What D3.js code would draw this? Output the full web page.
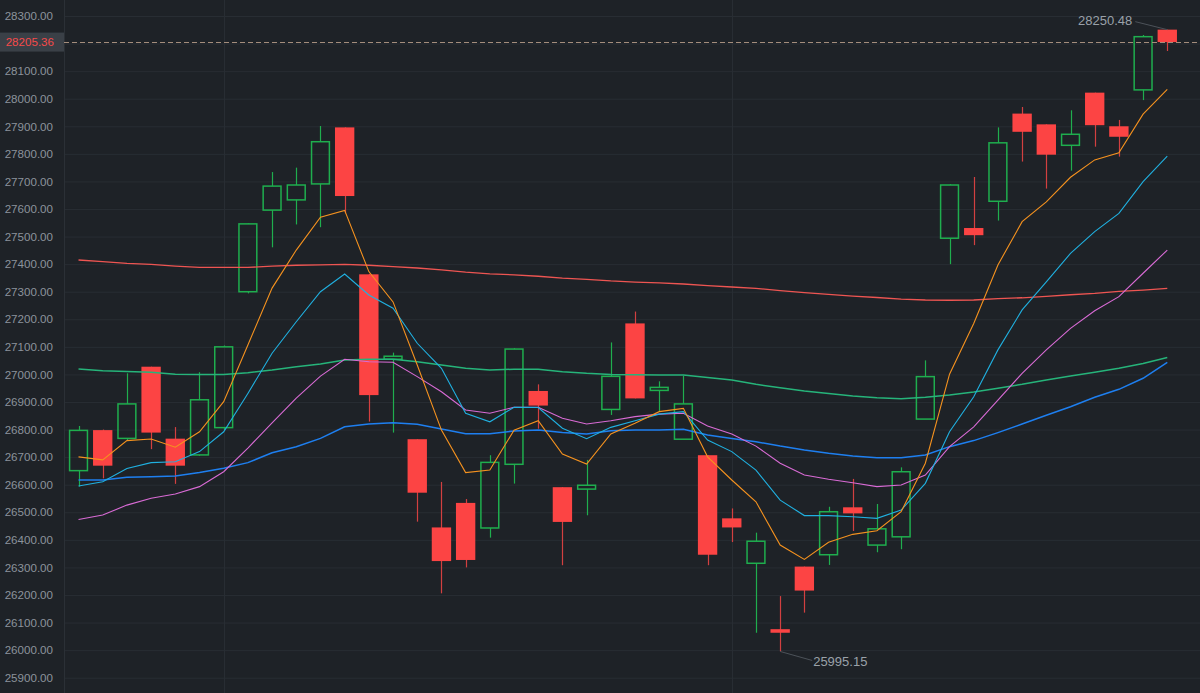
<!DOCTYPE html>
<html>
<head>
<meta charset="utf-8">
<script src="https://cdn.jsdelivr.net/npm/d3@7/dist/d3.min.js"></script>
<style>
  html, body { margin: 0; padding: 0; background: #1e2227; }
  svg { display: block; }
  text { font-family: "Liberation Sans", Arial, sans-serif; }
</style>
</head>
<body>
<script>
var width = 1200,
    height = 693,
    axisW = 64;

// candles (oldest -> newest)
var opens  = [26651,26798,26768,27028,26767,26708,26807,27300,27596,27633,27691,27896,27363,27055,26765,26445,26534,26443,26674,26940,26591,26584,26873,27185,26942,26765,26707,26478,26315,26076,26303,26346,26518,26381,26411,26838,27494,27531,27628,27946,27907,27831,28022,27900,28032,28250.48];
var highs  = [26813,26800,27004,27028,26809,27008,27105,27548,27734,27750,27901,27896,27365,27079,26765,26610,26548,26707,27095,26964,26591,26690,27116,27228,26975,26995,26707,26514,26426,26196,26303,26520,26621,26530,26663,27051,27690,27716,27896,27970,27907,27958,28022,27923,28231,28250.48];
var lows   = [26593,26623,26760,26729,26603,26705,26798,27294,27461,27544,27534,27584,26829,26789,26466,26206,26300,26408,26604,26803,26308,26489,26853,26913,26867,26765,26308,26392,26063,25995.15,26136,26309,26432,26355,26366,26838,27400,27469,27558,27772,27674,27739,27826,27790,27995,28173];
var closes = [26797,26669,26893,26789,26669,26908,27100,27546,27683,27687,27844,27647,26925,27066,26571,26323,26327,26681,27092,26887,26465,26598,26993,26913,26953,26893,26346,26445,26395,26063,26216,26502,26496,26440,26647,26992,27687,27505,27840,27880,27797,27871,27904,27862,28225,28205.36];

// moving averages
var ma5   = [26701,26690,26760,26766,26736,26792,26901,27107,27313,27451,27570,27595,27373,27263,27034,26798,26644,26653,26798,26832,26711,26675,26784,26823,26865,26877,26701,26617,26538,26381,26329,26391,26420,26433,26502,26678,27001,27185,27397,27554,27626,27715,27778,27804,27944,28034];
var ma10  = [26595,26611,26659,26680,26683,26720,26792,26931,27077,27191,27300,27364,27288,27240,27113,27022,26859,26828,26881,26880,26805,26767,26808,26832,26856,26865,26762,26720,26653,26544,26488,26488,26484,26478,26508,26605,26792,26919,27089,27234,27336,27439,27518,27584,27699,27792];
var ma20  = [26474,26490,26526,26551,26566,26593,26647,26733,26824,26914,26994,27055,27046,27044,26992,26937,26871,26859,26881,26881,26841,26820,26832,26847,26856,26859,26813,26784,26740,26678,26635,26620,26607,26593,26599,26635,26738,26810,26907,27004,27089,27167,27231,27282,27367,27451];
var ma30  = [26617,26617,26627,26629,26632,26644,26660,26680,26716,26738,26768,26810,26820,26825,26819,26802,26785,26785,26795,26798,26789,26784,26796,26798,26798,26801,26780,26768,26756,26740,26726,26714,26704,26698,26698,26708,26738,26760,26789,26820,26852,26883,26917,26946,26986,27044];
var ma60  = [27020,27013,27011,27008,27001,27000,27000,27006,27016,27028,27038,27052,27055,27055,27046,27034,27022,27016,27019,27019,27010,27004,27000,26999,26998,26998,26989,26980,26964,26952,26940,26931,26922,26915,26912,26917,26925,26936,26950,26964,26980,26994,27008,27022,27040,27061];
var ma120 = [27415,27409,27403,27399,27393,27388,27388,27388,27393,27396,27397,27399,27396,27391,27386,27379,27371,27365,27361,27356,27349,27345,27339,27335,27332,27328,27322,27317,27312,27304,27297,27290,27284,27279,27273,27270,27269,27270,27275,27278,27283,27289,27294,27301,27306,27312];

var maLines = [
  { name: 'MA120', values: ma120, color: '#ee5552', w: 1.3 },
  { name: 'MA60',  values: ma60,  color: '#26b47a', w: 1.5 },
  { name: 'MA30',  values: ma30,  color: '#1e7ff0', w: 1.5 },
  { name: 'MA20',  values: ma20,  color: '#d96bd5', w: 1.1 },
  { name: 'MA10',  values: ma10,  color: '#20b0e0', w: 1.1 },
  { name: 'MA5',   values: ma5,   color: '#f5921f', w: 1.1 }
];

var yTicks = [25900,26000,26100,26200,26300,26400,26500,26600,26700,26800,26900,27000,27100,27200,27300,27400,27500,27600,27700,27800,27900,28000,28100,28200,28300];
var xGridIdx = [6, 27];
var lastPrice = 28205.36;

var upColor = '#1fae4e',
    downColor = '#fc4444';

var idx = d3.range(opens.length);

var svg = d3.select('body').append('svg')
    .attr('width', width)
    .attr('height', height);

svg.append('rect').attr('width', width).attr('height', height).attr('fill', '#1e2227');

var x = d3.scaleBand()
    .domain(idx)
    .range([axisW, 1181.8])
    .padding(0.2);

var y = d3.scaleLinear()
    .domain([25900, 28300])
    .range([677.7, 16]);

function cx(i) { return x(i) + x.bandwidth() / 2; }

// grid
svg.append('g')
    .attr('transform', 'translate(' + axisW + ',0)')
    .call(d3.axisLeft(y).tickValues(yTicks).tickSize(-(width - axisW)).tickFormat(''))
    .call(function(g) {
      g.select('.domain').remove();
      g.selectAll('line').attr('stroke', '#282d33');
    });

svg.append('g').selectAll('line')
    .data(xGridIdx)
    .enter().append('line')
      .attr('x1', function(d) { return Math.round(cx(d)) + 0.5; })
      .attr('x2', function(d) { return Math.round(cx(d)) + 0.5; })
      .attr('y1', 0).attr('y2', height)
      .attr('stroke', '#282d33');

svg.append('line')
    .attr('x1', axisW + 0.5).attr('x2', axisW + 0.5)
    .attr('y1', 0).attr('y2', height)
    .attr('stroke', '#2b3036');

// y axis labels
svg.append('g')
    .attr('transform', 'translate(53,0)')
    .call(d3.axisLeft(y).tickValues(yTicks).tickSize(0).tickPadding(0).tickFormat(d3.format('.2f')))
    .call(function(g) {
      g.select('.domain').remove();
      g.selectAll('text')
        .attr('fill', '#8c939c')
        .style('font-size', '11.6px')
        .style('font-family', '"Liberation Sans", Arial, sans-serif');
    });

// candles
var candle = svg.append('g').selectAll('g')
    .data(idx)
    .enter().append('g');

candle.each(function(i) {
  var g = d3.select(this);
  var up = closes[i] >= opens[i];
  var c = up ? upColor : downColor;
  var xc = Math.round(cx(i)) + 0.5;
  var top = y(Math.max(opens[i], closes[i])),
      bot = y(Math.min(opens[i], closes[i]));
  if (up) {
    g.append('line').attr('x1', xc).attr('x2', xc)
      .attr('y1', y(highs[i])).attr('y2', top)
      .attr('stroke', c).attr('stroke-width', 1.2);
    g.append('line').attr('x1', xc).attr('x2', xc)
      .attr('y1', bot).attr('y2', y(lows[i]))
      .attr('stroke', c).attr('stroke-width', 1.2);
    g.append('rect')
      .attr('x', x(i) + 0.75).attr('y', top)
      .attr('width', x.bandwidth() - 1.5)
      .attr('height', Math.max(1, bot - top))
      .attr('fill', 'none')
      .attr('stroke', c).attr('stroke-width', 1.5);
  } else {
    g.append('line').attr('x1', xc).attr('x2', xc)
      .attr('y1', y(highs[i])).attr('y2', y(lows[i]))
      .attr('stroke', '#d24040').attr('stroke-width', 1.2);
    g.append('rect')
      .attr('x', x(i)).attr('y', top)
      .attr('width', x.bandwidth())
      .attr('height', Math.max(2, bot - top))
      .attr('fill', c);
  }
});

// moving averages
var line = d3.line()
    .x(function(d, i) { return cx(i); })
    .y(function(d) { return y(d); });

svg.append('g').selectAll('path')
    .data(maLines)
    .enter().append('path')
      .attr('d', function(d) { return line(d.values); })
      .attr('fill', 'none')
      .attr('stroke', function(d) { return d.color; })
      .attr('stroke-width', function(d) { return d.w; });

// last price line + label
var yl = y(lastPrice);
svg.append('line')
    .attr('x1', axisW).attr('x2', width)
    .attr('y1', Math.round(yl) + 0.5).attr('y2', Math.round(yl) + 0.5)
    .attr('stroke', '#a48d7c')
    .attr('stroke-dasharray', '5,3');
svg.append('rect')
    .attr('x', 0).attr('y', yl - 9.5)
    .attr('width', axisW).attr('height', 19)
    .attr('fill', '#3a4047');
svg.append('text')
    .attr('x', 54).attr('y', yl + 4)
    .attr('text-anchor', 'end')
    .attr('fill', '#f74a4a')
    .style('font-size', '11.6px')
    .text(d3.format('.2f')(lastPrice));

// max / min markers
var iMax = d3.maxIndex(highs),
    iMin = d3.minIndex(lows);

svg.append('line')
    .attr('x1', cx(iMax)).attr('y1', y(highs[iMax]))
    .attr('x2', cx(iMax) - 32).attr('y2', y(highs[iMax]) - 8)
    .attr('stroke', '#4c5259');
svg.append('text')
    .attr('x', cx(iMax) - 35).attr('y', y(highs[iMax]) - 5)
    .attr('text-anchor', 'end')
    .attr('fill', '#9aa1a9')
    .style('font-size', '13px')
    .text(d3.format('.2f')(highs[iMax]));

svg.append('line')
    .attr('x1', cx(iMin)).attr('y1', y(lows[iMin]))
    .attr('x2', cx(iMin) + 32).attr('y2', y(lows[iMin]) + 9)
    .attr('stroke', '#4c5259');
svg.append('text')
    .attr('x', cx(iMin) + 33).attr('y', y(lows[iMin]) + 14.5)
    .attr('fill', '#9aa1a9')
    .style('font-size', '13px')
    .text(d3.format('.2f')(lows[iMin]));
</script>
</body>
</html>
